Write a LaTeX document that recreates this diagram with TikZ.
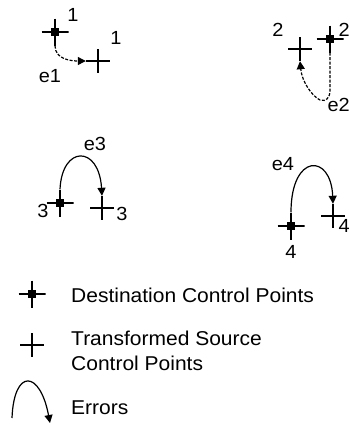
\documentclass[tikz,border=0pt]{standalone}
\usepackage{fontspec}
\setmainfont{Liberation Sans}[FakeStretch=1.05]
\usetikzlibrary{arrows.meta}
\tikzset{
  lbl/.style={inner sep=0pt, font=\fontsize{19}{22}\selectfont},
  legtext/.style={inner sep=0pt, anchor=base west, font=\fontsize{20}{24}\selectfont},
  transpt/.style={minimum width=24pt, minimum height=24pt, inner sep=0pt,
    path picture={\draw[line width=1.3pt] (path picture bounding box.west) -- (path picture bounding box.east)
      (path picture bounding box.north) -- (path picture bounding box.south);}},
  destpt/.style={minimum width=27pt, minimum height=27pt, inner sep=0pt,
    path picture={\draw[line width=1.3pt] (path picture bounding box.west) -- (path picture bounding box.east)
      (path picture bounding box.north) -- (path picture bounding box.south);
      \fill ([shift={(-4pt,-4pt)}]path picture bounding box.center) rectangle ([shift={(4pt,4pt)}]path picture bounding box.center);}},
  err/.style={line width=1.2pt, -{Triangle[length=8pt,width=8pt]}},
  errdash/.style={err, dash pattern=on 3pt off 1.5pt},
}
\begin{document}
\begin{tikzpicture}[x=1pt,y=-1pt]
\useasboundingbox (0,0) rectangle (350,424);
% group 1
\node[destpt] (d1) at (55,32) {};
\node[transpt] (t1) at (98,61) {};
\node[lbl] (l1a) at (73,15) {1};
\node[lbl] (l1b) at (116,38) {1};
\node[lbl] (e1) at (50,76) {e1};
\draw[errdash] (d1.south) .. controls +(0,14) and +(-14,0) .. (t1.west);
% group 2
\node[destpt] (d2) at (330,39) {};
\node[transpt] (t2) at (300,49) {};
\node[lbl] (l2a) at (278,30) {2};
\node[lbl, anchor=east] (l2b) at (350,30) {2};
\node[lbl, anchor=east] (e2) at (350,105) {e2};
\draw[errdash] (d2.south) -- (330,90) .. controls (330,98) and (326,102) .. (320,100) .. controls (312,96) and (302,82) .. (t2.south);
% group 3
\node[destpt] (d3) at (60,203) {};
\node[transpt] (t3) at (102,208) {};
\node[lbl] (l3a) at (43,211) {3};
\node[lbl] (l3b) at (122,214) {3};
\node[lbl] (e3) at (95,144) {e3};
\draw[err] (d3.north) .. controls (62,145) and (99,145) .. (t3.north);
% group 4
\node[destpt] (d4) at (291,226) {};
\node[transpt] (t4) at (333,216) {};
\node[lbl] (l4a) at (291,252) {4};
\node[lbl, anchor=east] (l4b) at (350,226) {4};
\node[lbl] (e4) at (283,164) {e4};
\draw[err] (d4.north) .. controls (291,153) and (331,153) .. (t4.north);
% legend
\node[destpt] (ld) at (32,294) {};
\node[legtext] (ldt) at (71,302) {Destination Control Points};
\node[transpt] (lt) at (32,345) {};
\node[legtext] (ltt1) at (71,345) {Transformed Source};
\node[legtext] (ltt2) at (71,370) {Control Points};
\coordinate (ea) at (12,418);
\coordinate (eb) at (50,423);
\draw[err] (ea) .. controls (14,368) and (40,370) .. (eb);
\node[legtext] (let) at (71,414) {Errors};
\end{tikzpicture}
\end{document}
